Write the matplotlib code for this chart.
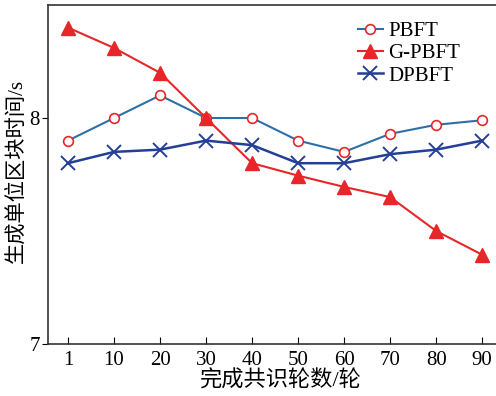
import matplotlib
matplotlib.use("Agg")
import matplotlib.pyplot as plt

categories = ["1", "10", "20", "30", "40", "50", "60", "70", "80", "90"]
pbft = [7.90, 8.00, 8.10, 8.00, 8.00, 7.90, 7.85, 7.93, 7.97, 7.99]
gpbft = [8.40, 8.31, 8.20, 8.00, 7.80, 7.745, 7.695, 7.65, 7.50, 7.395]
dpbft = [7.80, 7.85, 7.86, 7.90, 7.88, 7.80, 7.80, 7.84, 7.86, 7.90]

serif = ["Liberation Serif", "Noto Sans CJK SC"]
plt.rcParams["font.family"] = serif

fig = plt.figure(figsize=(4.96, 3.96), dpi=100)
ax = fig.add_axes([48/496, 1-344/396, 1-48/496, (344-5)/396])
x = list(range(len(categories)))

ax.plot(x, pbft, color="#2f6fa6", lw=1.5, marker="o", ms=7, mfc="white",
        mec="#e8262a", mew=1.2, label="PBFT")
ax.plot(x, gpbft, color="#e8262a", lw=1.5, marker="^", ms=10.5, mfc="#e8262a",
        mec="#e8262a", label="G-PBFT")
ax.plot(x, dpbft, color="#233f96", lw=1.8, marker="x", ms=10, mew=1.4,
        label="DPBFT")

ax.set_xlim(-0.435, 9.30)
ax.set_ylim(7, 8.5)
ax.set_xticks(x)
ax.set_xticklabels(categories)
ax.set_yticks([7, 8])
ax.set_yticklabels(["7", "8"])
ax.tick_params(axis="x", direction="in", length=5, labelsize=15, pad=5)
ax.tick_params(axis="y", direction="out", length=4, labelsize=15, pad=2)
ax.spines["right"].set_visible(False)
for s in ["left", "bottom", "top"]:
    ax.spines[s].set_linewidth(1.2)
    ax.spines[s].set_color("#333333")

ax.set_xlabel("完成共识轮数/轮", fontsize=16, labelpad=0)
ax.xaxis.set_label_coords(0.518, -0.078)
ax.set_ylabel("生成单位区块时间/s", fontsize=15.3, labelpad=0)
ax.yaxis.set_label_coords(-0.047, 0.51)

leg = ax.legend(loc="upper left", bbox_to_anchor=(0.673, 0.975), frameon=False,
                fontsize=15, handlelength=1.2, handletextpad=0.25,
                labelspacing=0.12, borderaxespad=0)

fig.savefig("out.png", dpi=100)
